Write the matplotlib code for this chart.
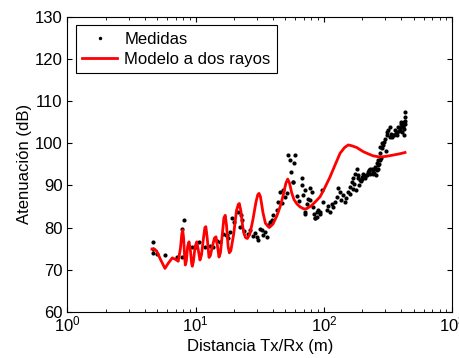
import matplotlib
matplotlib.use('Agg')
import matplotlib.pyplot as plt

plt.rcParams['font.family'] = ['Liberation Sans', 'DejaVu Sans']
plt.rcParams['mathtext.fontset'] = 'custom'
plt.rcParams['mathtext.rm'] = 'Liberation Sans'
plt.rcParams['mathtext.it'] = 'Liberation Sans'

# Medidas (distancia en m, atenuacion en dB)
med_d = [4.62, 4.62, 4.62, 4.97, 5.76, 7.19, 7.86, 7.86, 8.15, 9.41,
         10.0, 10.7, 11.8, 12.9, 13.7, 14.7, 15.5, 16.2, 17.2, 17.5,
         17.9, 18.5, 19.1, 20.0, 21.5, 22.6, 22.8, 22.2, 26.5, 29.0,
         30.8, 29.9, 32.7, 34.7, 35.8, 33.6, 39.2, 40.3, 42.8, 44.1,
         45.5, 48.3, 51.4, 52.7, 59.5, 54.5, 58.9, 55.4, 57.7, 67.1,
         67.1, 71.1, 77.8, 80.3, 73.5, 71.1, 77.8, 82.6, 87.9, 85.0,
         90.2, 93.3, 71.5, 83.0, 85.0, 57.5, 62.0, 64.0, 75.0, 69.0,
         87.9, 93.3, 99.0, 97.5, 105, 111.6, 118.5, 121.9, 125.5, 129.4,
         133.6, 141.2, 145.5, 150.0, 154.8, 159.5, 164.6, 170, 175, 180,
         185, 191, 197, 203, 209, 216, 223, 230, 236, 243,
         251, 258, 266, 274, 282, 290, 137, 108, 115, 160,
         258, 266, 274, 274, 285, 299, 308, 317, 327, 348,
         358, 369, 380, 392, 400, 407, 415, 422, 429, 429,
         422, 422, 254, 262, 246, 240, 296, 312, 335, 340,
         365, 375, 386, 398, 410, 418, 426, 430, 303, 230,
         220, 212, 200, 195, 188, 178, 172, 168, 47.0, 50.0,
         24.0, 25.5, 36.8, 38.0, 31.5, 28.0, 186, 206, 226, 248,
         270, 280, 330, 355, 395, 412]
med_a = [76.6, 75.0, 73.9, 73.7, 73.5, 73.1, 72.9, 79.6, 81.8, 75.4,
         75.4, 76.6, 75.4, 75.6, 75.4, 76.8, 76.6, 78.4, 78.2, 78.2,
         77.4, 78.9, 82.2, 81.4, 83.7, 82.9, 81.8, 80.2, 79.4, 78.7,
         77.0, 77.8, 79.4, 79.0, 77.8, 78.2, 81.8, 82.9, 84.2, 86.1,
         88.5, 88.9, 88.1, 97.2, 97.2, 96.0, 95.2, 93.1, 90.9, 91.7,
         90.1, 88.9, 89.3, 88.5, 85.7, 83.7, 86.5, 84.9, 83.7, 82.2,
         84.1, 83.3, 83.3, 83.3, 82.2, 90.9, 87.5, 86.3, 86.8, 87.8,
         82.5, 83.7, 86.1, 88.9, 84.1, 83.7, 84.9, 86.1, 87.3, 89.3,
         88.5, 87.7, 86.1, 86.9, 88.5, 89.7, 90.9, 91.7, 92.8, 94.0,
         92.4, 91.3, 92.0, 92.8, 91.7, 92.4, 93.6, 92.8, 94.0, 93.2,
         94.4, 95.2, 96.0, 97.6, 98.8, 99.6, 86.6, 85.0, 85.5, 88.0,
         93.6, 94.8, 96.0, 99.2, 100.0, 101.1, 101.9, 103.1, 103.9, 101.9,
         103.1, 102.7, 103.9, 103.1, 105.1, 102.7, 103.9, 105.1, 106.3, 107.5,
         103.5, 101.9, 92.4, 93.9, 93.0, 92.6, 100.3, 102.6, 102.3, 101.5,
         102.4, 102.0, 102.8, 104.5, 104.2, 104.8, 104.6, 105.2, 98.2, 93.9,
         93.1, 92.5, 91.4, 91.0, 90.1, 89.0, 90.3, 89.2, 85.8, 87.3,
         79.2, 78.4, 80.6, 81.2, 79.6, 78.0, 91.8, 92.1, 93.3, 93.8,
         95.0, 96.5, 101.6, 102.0, 103.6, 104.0]

# Modelo a dos rayos
mod_d = [4.56, 4.8, 4.97, 5.3, 5.76, 6.1, 6.57, 7.0, 7.31, 7.6,
         7.8, 7.92, 8.05, 8.2, 8.30, 8.45, 8.65, 8.87, 9.1, 9.3,
         9.41, 9.6, 9.9, 10.2, 10.5, 10.8, 11.1, 11.5, 11.8, 12.0,
         12.3, 12.7, 13.0, 13.5, 14.0, 14.4, 14.8, 15.2, 15.6, 16.2,
         16.6, 17.0, 17.4, 17.9, 18.3, 18.8, 19.8, 20.8, 21.5, 21.9,
         22.5, 23.2, 23.8, 24.5, 25.3, 26.5, 28.0, 29.5, 30.5, 31.2,
         32.0, 33.5, 35.0, 37.5, 40.0, 43.0, 45.5, 48.0, 50.5, 52.2,
         54.0, 56.0, 58.5, 62.0, 65.2, 70.0, 73.5, 80.0, 87.0, 93.3,
         100, 111.6, 122, 133.6, 145, 155, 164.8, 180, 203, 225,
         243, 265, 290, 320, 348, 390, 429]
mod_a = [74.9, 74.8, 74.4, 72.5, 70.3, 71.5, 72.8, 72.4, 72.0, 75.0,
         78.5, 79.4, 77.5, 73.0, 71.1, 72.0, 75.5, 76.6, 74.5, 71.5,
         70.8, 72.0, 75.5, 76.6, 74.5, 72.3, 73.5, 77.5, 80.0, 80.2,
         77.5, 72.9, 73.3, 75.5, 77.5, 77.8, 75.5, 73.0, 74.0, 79.0,
         82.3, 82.9, 80.5, 75.5, 74.0, 74.5, 78.5, 84.0, 85.5, 85.7,
         84.0, 80.5, 78.6, 77.6, 77.4, 78.5, 82.0, 86.0, 87.8, 88.1,
         87.3, 83.5, 81.0, 80.0, 80.8, 82.8, 84.9, 87.5, 90.5, 91.5,
         90.5, 88.3, 86.6, 85.5, 84.9, 84.4, 84.5, 85.2, 86.3, 87.3,
         89.0, 92.0, 94.8, 97.6, 99.0, 99.6, 99.4, 99.0, 98.0, 97.4,
         97.0, 96.8, 96.8, 97.0, 97.2, 97.5, 97.8]

fig = plt.figure(figsize=(4.59, 3.58), dpi=100)
ax = fig.add_axes([0.147, 0.129, 0.838, 0.824])

ax.plot(med_d, med_a, 'o', color='black', markersize=3.0, markeredgewidth=0,
        label='Medidas')
ax.plot(mod_d, mod_a, '-', color='red', linewidth=2.0, label='Modelo a dos rayos')

ax.set_xscale('log')
ax.set_xlim(1, 1000)
ax.set_ylim(60, 130)
ax.set_yticks(range(60, 131, 10))
ax.set_xlabel('Distancia Tx/Rx (m)', fontsize=12, labelpad=3)
ax.set_ylabel('Atenuación (dB)', fontsize=12, labelpad=2)
ax.tick_params(which='both', direction='in', top=True, right=True, labelsize=12)
ax.tick_params(axis='x', pad=2)

leg = ax.legend(loc='upper left', fontsize=12, fancybox=False, edgecolor='black',
                framealpha=1, borderaxespad=0.5, handlelength=2.1,
                handletextpad=0.4, borderpad=0.4, labelspacing=0.3)
leg.get_frame().set_linewidth(0.8)
leg.legend_handles[0].set_markersize(2.5)

fig.savefig('out.png', dpi=100)
